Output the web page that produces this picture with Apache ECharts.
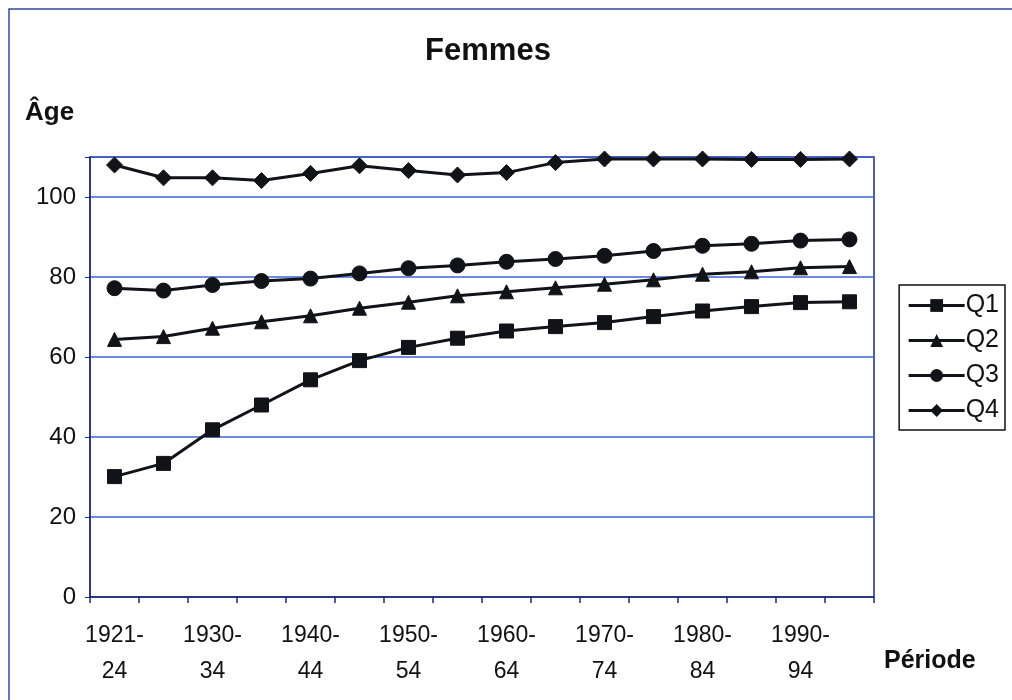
<!DOCTYPE html>
<html>
<head>
<meta charset="utf-8">
<script src="https://cdn.jsdelivr.net/npm/echarts@6/dist/echarts.min.js"></script>
<style>
  html, body { margin: 0; padding: 0; background: #fff; }
  #chart { width: 1012px; height: 700px; }
</style>
</head>
<body>
<div id="chart"></div>
<script>
// périodes (5 ans), une étiquette sur deux est affichée
var periodes = ['1921-24', '1925-29', '1930-34', '1935-39', '1940-44', '1945-49',
  '1950-54', '1955-59', '1960-64', '1965-69', '1970-74', '1975-79',
  '1980-84', '1985-89', '1990-94', '1995-99'];

var q1 = [30.1, 33.4, 41.8, 48.0, 54.3, 59.1, 62.4, 64.7, 66.5, 67.6, 68.6, 70.1, 71.5, 72.6, 73.6, 73.8];
var q2 = [64.4, 65.1, 67.2, 68.8, 70.3, 72.2, 73.7, 75.3, 76.3, 77.3, 78.2, 79.3, 80.7, 81.3, 82.3, 82.6];
var q3 = [77.2, 76.6, 78.0, 79.0, 79.6, 80.9, 82.2, 82.9, 83.8, 84.5, 85.3, 86.5, 87.8, 88.3, 89.1, 89.4];
var q4 = [108.0, 104.8, 104.8, 104.1, 105.9, 107.8, 106.6, 105.5, 106.1, 108.6, 109.5, 109.5, 109.5, 109.4, 109.4, 109.5];

var yTicks = [0, 20, 40, 60, 80, 100];

var ink = '#111318';
var navy = '#1f2b6e';
var gridBlue = '#3d63d9';
var font = 'Liberation Sans, Arial, sans-serif';

function makeSeries(name, data, symbol, size) {
  return {
    name: name,
    type: 'line',
    data: data,
    symbol: symbol,
    symbolSize: size,
    lineStyle: { color: ink, width: 3 },
    itemStyle: { color: ink, borderColor: ink },
    emphasis: { disabled: true },
    animation: false
  };
}

var chart = echarts.init(document.getElementById('chart'));
chart.setOption({
  backgroundColor: '#fff',
  animation: false,
  title: {
    text: 'Femmes',
    left: 483,
    textAlign: 'center',
    top: 31,
    textStyle: { fontFamily: font, fontSize: 31, fontWeight: 'bold', color: '#111' }
  },
  graphic: [
    {
      type: 'rect',
      shape: { x: 9, y: 9, width: 1010, height: 700 },
      style: { fill: null, stroke: '#334a9a', lineWidth: 1.5 },
      silent: true
    },
    {
      type: 'text', left: 25, top: 100,
      style: { text: 'Âge', font: 'bold 26px ' + font, fill: '#111' }
    },
    {
      type: 'text', left: 884, top: 649,
      style: { text: 'Période', font: 'bold 25px ' + font, fill: '#111' }
    }
  ],
  legend: {
    orient: 'vertical',
    right: 7,
    top: 285,
    itemWidth: 56,
    itemHeight: 16,
    itemGap: 10,
    padding: [8, 6, 7, 8],
    borderColor: '#111',
    borderWidth: 1.5,
    lineStyle: { width: 3 },
    textStyle: { fontFamily: font, fontSize: 25, color: '#111', padding: [0, 0, 0, -4] },
    data: ['Q1', 'Q2', 'Q3', 'Q4']
  },
  grid: {
    left: 90, right: 138, top: 157, bottom: 103,
    show: true,
    borderColor: navy,
    borderWidth: 1.5
  },
  xAxis: {
    type: 'category',
    data: periodes,
    boundaryGap: true,
    axisLine: { lineStyle: { color: navy, width: 1.5 } },
    axisTick: { show: true, interval: 0, length: 6, lineStyle: { color: navy, width: 1.5 } },
    axisLabel: {
      interval: 1,
      margin: 21,
      lineHeight: 36,
      fontFamily: font,
      fontSize: 23,
      color: '#111',
      formatter: function (v) { return v.replace('-', '-\n'); }
    }
  },
  yAxis: {
    type: 'value',
    min: 0,
    max: 110,
    interval: 20,
    axisLine: { show: true, lineStyle: { color: navy, width: 1.5 } },
    axisTick: { show: true, length: 5, lineStyle: { color: navy } },
    splitLine: { show: true, lineStyle: { color: gridBlue, width: 1.6, opacity: 1 } },
    axisLabel: {
      margin: 14,
      fontFamily: font,
      fontSize: 24,
      color: '#111',
      formatter: function (v) { return yTicks.indexOf(v) >= 0 ? String(v) : ''; }
    }
  },
  series: [
    makeSeries('Q1', q1, 'rect', 14),
    makeSeries('Q2', q2, 'triangle', 14),
    makeSeries('Q3', q3, 'circle', 15),
    makeSeries('Q4', q4, 'diamond', 16)
  ]
});
</script>
</body>
</html>
